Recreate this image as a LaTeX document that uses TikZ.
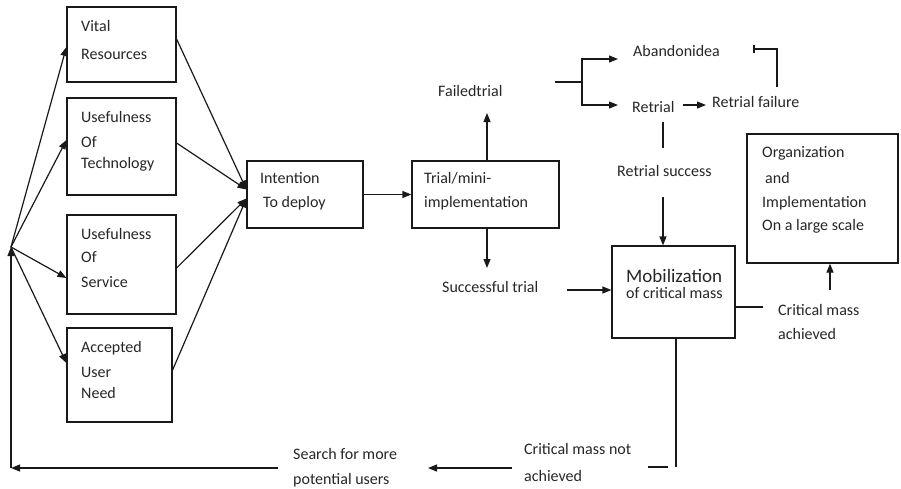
\documentclass[tikz,border=0pt]{standalone}
\usepackage{fontspec}
\setmainfont{Carlito}
\usetikzlibrary{arrows.meta}
\begin{document}
\begin{tikzpicture}[x=1pt,y=-1pt,
  box/.style={draw=black!90, line width=1.2pt, inner sep=0pt},
  txt/.style={anchor=base west, inner sep=0pt, font=\fontsize{16}{19}\selectfont, text=black!85},
  bigtxt/.style={txt, font=\fontsize{19}{22}\selectfont},
  ln/.style={line width=1.2pt, draw=black!90},
  arr/.style={ln, -{Triangle[length=9pt,width=7pt]}},
  barend/.style={ln, -{Bar[width=8pt,line width=1.6pt]}}
]
\useasboundingbox (0,0) rectangle (901,488);

% ---------- boxes ----------
\node[box, minimum width=109pt, minimum height=75pt] (vr)  at (121.5,44.5) {};
\node[box, minimum width=109pt, minimum height=97pt] (ut)  at (121.5,146.5) {};
\node[box, minimum width=109pt, minimum height=99pt] (us)  at (121.5,264.5) {};
\node[box, minimum width=105pt, minimum height=94pt] (au)  at (119.5,375) {};
\node[box, minimum width=116pt, minimum height=67pt] (int) at (305,194.5) {};
\node[box, minimum width=147pt, minimum height=67pt] (tr)  at (485.5,194.5) {};
\node[box, minimum width=123pt, minimum height=92pt] (mob) at (673.5,292) {};
\node[box, minimum width=151pt, minimum height=129pt] (org) at (822.5,198.5) {};

% ---------- box texts ----------
\node[txt] (vr1) at (81,31) {Vital};
\node[txt] (vr2) at (81,59) {Resources};
\node[txt] (ut1) at (81,122) {Usefulness};
\node[txt] (ut2) at (81,147) {Of};
\node[txt] (ut3) at (81,168) {Technology};
\node[txt] (us1) at (81,239) {Usefulness};
\node[txt] (us2) at (81,262) {Of};
\node[txt] (us3) at (81,287) {Service};
\node[txt] (au1) at (81,352) {Accepted};
\node[txt] (au2) at (81,377) {User};
\node[txt] (au3) at (81,398) {Need};
\node[txt] (in1) at (260,183) {Intention};
\node[txt] (in2) at (263,207) {To deploy};
\node[txt] (tr1) at (424,183) {Trial/mini-};
\node[txt] (tr2) at (424,207) {implementation};
\node[bigtxt] (mb1) at (626,282) {Mobilization};
\node[txt] (mb2) at (626,298) {of critical mass};
\node[txt] (or1) at (762,157) {Organization};
\node[txt] (or2) at (765,183) {and};
\node[txt] (or3) at (762,207) {Implementation};
\node[txt] (or4) at (762,230) {On a large scale};

% ---------- free labels ----------
\node[txt] (ft)  at (438,96)  {Failedtrial};
\node[txt] (st)  at (442,292) {Successful trial};
\node[txt] (ab)  at (633,56)  {Abandonidea};
\node[txt] (re)  at (632,112) {Retrial};
\node[txt] (rf)  at (712,107) {Retrial failure};
\node[txt] (rs)  at (617,176) {Retrial success};
\node[txt] (ca1) at (778,315) {Critical mass};
\node[txt] (ca2) at (778,339) {achieved};
\node[txt] (cn1) at (524,454) {Critical mass not};
\node[txt] (cn2) at (524,481) {achieved};
\node[txt] (se1) at (293,459) {Search for more};
\node[txt] (se2) at (293,484) {potential users};

% ---------- coordinates ----------
\coordinate (hub) at (11,247);
\coordinate (corner) at (11,468);
\coordinate (ftend) at (487,113);
\coordinate (stend) at (487,268);
\coordinate (ststart) at (567,290);
\coordinate (bs) at (555,82);
\coordinate (bm) at (582,82);
\coordinate (abend) at (618,59);
\coordinate (reend) at (618,105);
\coordinate (rfs) at (683,105);
\coordinate (rfe) at (706,105);
\coordinate (fbv) at (777,87);
\coordinate (fbe) at (753,49);
\coordinate (rsa) at (663,122);
\coordinate (rsb) at (663,148);
\coordinate (rsc) at (663,197);
\coordinate (cae) at (763,307);
\coordinate (cas) at (830,290);
\coordinate (mbd) at (676,467);
\coordinate (dsh1) at (648,467);
\coordinate (dsh2) at (668,467);
\coordinate (cns) at (512,468);
\coordinate (cne) at (428,468);
\coordinate (ses) at (278,468);

% ---------- hub to factor boxes ----------
\draw[arr] (hub) -- ([yshift=-2.5pt]vr.west);
\draw[arr] (hub) -- ([yshift=6.5pt]ut.west);
\draw[arr] (hub) -- ([yshift=-13.5pt]us.west);
\draw[arr] (hub) -- ([yshift=12pt]au.west);

% ---------- factor boxes to intention ----------
\draw[arr] ([yshift=5.5pt]vr.east) -- ([yshift=5pt]int.west);
\draw[arr] ([yshift=3.5pt]ut.east) -- ([yshift=5pt]int.west);
\draw[arr] ([yshift=-3.5pt]us.east) -- ([yshift=-4pt]int.west);
\draw[arr] ([yshift=5pt]au.east) -- ([yshift=-4pt]int.west);

% ---------- main flow ----------
\draw[arr] (int.east) -- (tr.west);
\draw[arr] (tr.north -| ftend) -- (ftend);
\draw[arr] (tr.south -| stend) -- (stend);
\draw[arr] (ststart) -- (ststart -| mob.west);

% ---------- failed trial branch ----------
\draw[ln] (bs) -- (bm);
\draw[arr] (bm) |- (abend);
\draw[arr] (bm) |- (reend);
\draw[arr] (rfs) -- (rfe);
\draw[barend] (fbv) |- (fbe);
\draw[ln] (rsa) -- (rsb);
\draw[arr] (rsc) -- (rsc |- mob.north);

% ---------- critical mass ----------
\draw[ln] ([yshift=-15pt]mob.east) -- (cae);
\draw[arr] (cas) -- (cas |- org.south);
\draw[ln] (mbd |- mob.south) -- (mbd);
\draw[ln] (dsh1) -- (dsh2);
\draw[arr] (cns) -- (cne);
\draw[arr] (ses) -- (corner);
\draw[arr] (corner) -- (hub);
\end{tikzpicture}
\end{document}
